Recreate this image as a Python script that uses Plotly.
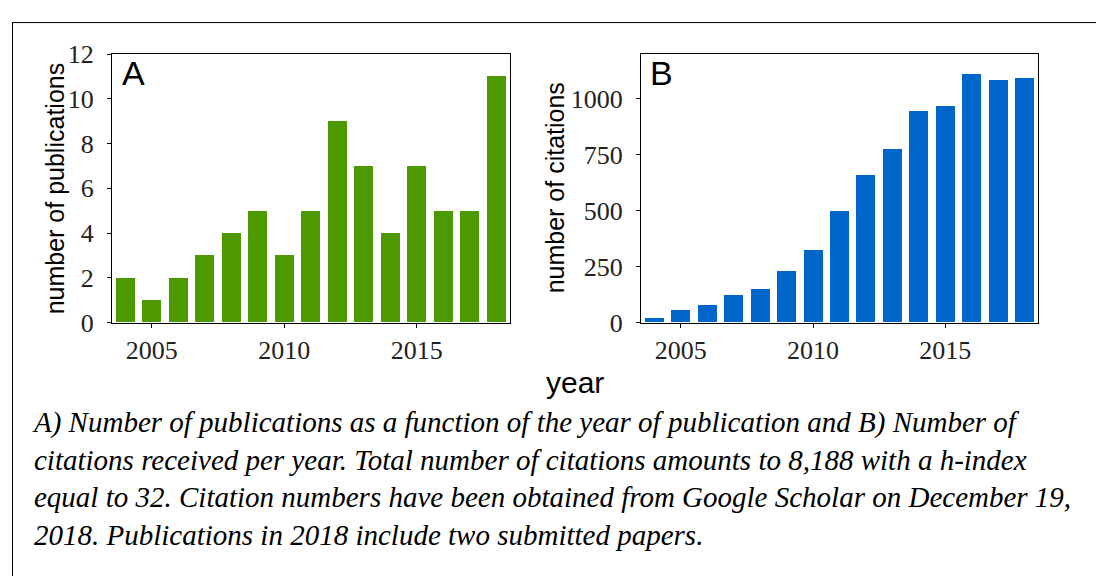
import plotly.graph_objects as go

# data
years = list(range(2004, 2019))
publications = [2, 1, 2, 3, 4, 5, 3, 5, 9, 7, 4, 7, 5, 5, 11]
citations = [21, 56, 78, 123, 149, 229, 323, 496, 656, 776, 944, 967, 1109, 1082, 1091]

pub_ticks = [0, 2, 4, 6, 8, 10, 12]
cit_ticks = [0, 250, 500, 750, 1000]
year_ticks = [2005, 2010, 2015]

caption = (
    "<i>A) Number of publications as a function of the year of publication and B) Number of<br>"
    "citations received per year. Total number of citations amounts to 8,188 with a h-index<br>"
    "equal to 32. Citation numbers have been obtained from Google Scholar on December 19,<br>"
    "2018. Publications in 2018 include two submitted papers.</i>"
)

W, H = 1104, 583
GREEN = "#4c9900"
BLUE = "#0066cc"
SERIF = "Liberation Serif"
SANS = "Liberation Sans"


# positions below are picked in screenshot pixels; these map them back
# to paper coords (page margin shifts x by 8, the capture squeezes y a bit)
def px(x):
    return (x - 8) / W


def py(y):
    f = (y - 12) / 0.956 - 8
    return (H - f) / H


fig = go.Figure()
fig.add_trace(go.Bar(x=years, y=publications, width=0.72, marker=dict(color=GREEN, line=dict(width=0)),
                     xaxis="x", yaxis="y", showlegend=False))
fig.add_trace(go.Bar(x=years, y=citations, width=0.72, marker=dict(color=BLUE, line=dict(width=0)),
                     xaxis="x2", yaxis="y2", showlegend=False))

axis_common = dict(showgrid=False, zeroline=False, showline=True, linecolor="black", linewidth=1,
                   mirror=True, ticks="outside", ticklen=4, tickwidth=1, tickcolor="black",
                   tickfont=dict(family=SERIF, size=26, color="#222"))

fig.update_layout(
    width=W, height=H,
    margin=dict(l=0, r=0, t=0, b=0),
    paper_bgcolor="white", plot_bgcolor="white",
    xaxis=dict(domain=[px(112), px(510)], range=[2003.5, 2018.52], tickvals=year_ticks,
               anchor="y", **axis_common),
    yaxis=dict(domain=[py(322), py(52)], range=[0, 12], tickvals=pub_ticks,
               anchor="x", ticklabelstandoff=8, **axis_common),
    xaxis2=dict(domain=[px(641), px(1038)], range=[2003.5, 2018.5], tickvals=year_ticks,
                anchor="y2", **axis_common),
    yaxis2=dict(domain=[py(322), py(52)], range=[0, 1198], tickvals=cit_ticks,
                anchor="x2", ticklabelstandoff=8, **axis_common),
    bargap=0,
)

annotations = [
    dict(text="number of publications", x=px(55), y=py(187), textangle=-90,
         font=dict(family=SANS, size=25, color="black")),
    dict(text="number of citations", x=px(555), y=py(187), textangle=-90,
         font=dict(family=SANS, size=25, color="black")),
    dict(text="year", x=px(575), y=py(382), font=dict(family=SANS, size=30, color="black")),
    dict(text="A", x=px(134), y=py(71), font=dict(family=SANS, size=34, color="black")),
    dict(text="B", x=px(661), y=py(71), font=dict(family=SANS, size=34, color="black")),
]
for a in annotations:
    a.update(xref="paper", yref="paper", showarrow=False, xanchor="center", yanchor="middle")
    fig.add_annotation(**a)

fig.add_annotation(text=caption, xref="paper", yref="paper", x=px(30), y=py(404),
                   xanchor="left", yanchor="top", align="left", showarrow=False,
                   font=dict(family=SERIF, size=29, color="black"))

# frame lines along the top and left edges (top one sits at the figure's top edge)
fig.add_shape(type="line", xref="paper", yref="paper", x0=px(12), x1=1, y0=0.999, y1=0.999,
              line=dict(color="black", width=1))
fig.add_shape(type="line", xref="paper", yref="paper", x0=px(12.5), x1=px(12.5), y0=0, y1=0.999,
              line=dict(color="black", width=1))

fig.write_html("out.html")
